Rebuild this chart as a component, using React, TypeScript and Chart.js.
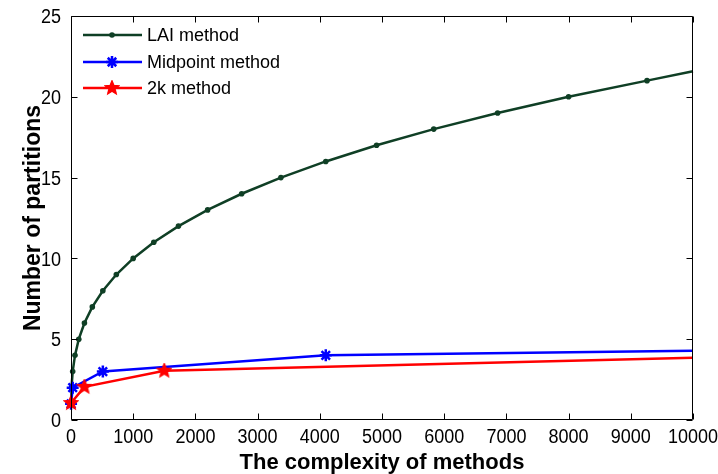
import React, { useEffect, useRef } from 'react';
import { Chart, registerables } from 'chart.js';

Chart.register(...registerables);

// ---- data ----
const laiComplexity = [1, 8, 27, 64, 125, 216, 343, 512, 729, 1000, 1331, 1728, 2197, 2744, 3375, 4096, 4913, 5832, 6859, 8000, 9261, 10000];
const laiPartitions = [1, 2, 3, 4, 5, 6, 7, 8, 9, 10, 11, 12, 13, 14, 15, 16, 17, 18, 19, 20, 21, 21.58];
const midComplexity = [1, 27, 512, 4096, 10000];
const midPartitions = [1, 2, 3, 4, 4.28];
const twoKComplexity = [1, 216, 1500, 10000];
const twoKPartitions = [1.05, 2.05, 3.05, 3.85];

const seriesNames = ['LAI method', 'Midpoint method', '2k method'];
const xTicks = [0, 1000, 2000, 3000, 4000, 5000, 6000, 7000, 8000, 9000, 10000];
const yTicks = [0, 5, 10, 15, 20, 25];
const xTitle = 'The complexity of methods';
const yTitle = 'Number of partitions';

const GREEN = '#0f3f25';
const BLUE = '#0000ff';
const RED = '#ff0000';

function makePentagram(color: string, r: number): HTMLCanvasElement {
  const c = document.createElement('canvas');
  const size = Math.ceil(r * 2 + 2);
  c.width = size;
  c.height = size;
  const g = c.getContext('2d')!;
  const cx = size / 2;
  const cy = size / 2;
  const inner = r * 0.45;
  g.beginPath();
  for (let i = 0; i < 10; i++) {
    const rad = i % 2 === 0 ? r : inner;
    const a = -Math.PI / 2 + (i * Math.PI) / 5;
    const px = cx + rad * Math.cos(a);
    const py = cy + rad * Math.sin(a);
    if (i === 0) g.moveTo(px, py);
    else g.lineTo(px, py);
  }
  g.closePath();
  g.fillStyle = color;
  g.fill();
  g.strokeStyle = color;
  g.lineWidth = 1.5;
  g.stroke();
  return c;
}

const zip = (xs: number[], ys: number[]) => xs.map((x, i) => ({ x, y: ys[i] }));

const FONT = "'Liberation Sans', Arial, Helvetica, sans-serif";

export default function App() {
  const ref = useRef<HTMLCanvasElement>(null);

  useEffect(() => {
    document.body.style.margin = '0';
    const pent = makePentagram(RED, 7);

    const lastHidden = (r: number) => (ctx: any) =>
      ctx.dataIndex === ctx.dataset.data.length - 1 ? 0 : r;

    const drawAsterisk = (ctx: CanvasRenderingContext2D, x: number, y: number, r: number) => {
      ctx.beginPath();
      ctx.moveTo(x - r, y);
      ctx.lineTo(x + r, y);
      ctx.moveTo(x, y - r);
      ctx.lineTo(x, y + r);
      const d = r * Math.SQRT1_2;
      ctx.moveTo(x - d, y - d);
      ctx.lineTo(x + d, y + d);
      ctx.moveTo(x - d, y + d);
      ctx.lineTo(x + d, y - d);
      ctx.stroke();
    };

    const framePlugin = {
      id: 'matlabFrame',
      afterDatasetsDraw(chart: any) {
        const { ctx, chartArea } = chart;
        const { left, right, top, bottom } = chartArea;
        const xs = chart.scales.x;
        const ys = chart.scales.y;
        ctx.save();
        ctx.strokeStyle = '#000';
        ctx.lineWidth = 1;
        const L = Math.round(left) + 0.5;
        const R = Math.round(right) - 0.5;
        const T = Math.round(top) + 0.5;
        const B = Math.round(bottom) - 0.5;
        ctx.beginPath();
        ctx.rect(L, T, R - L, B - T);
        const tl = 6;
        xTicks.forEach((v) => {
          const px = Math.round(xs.getPixelForValue(v)) + 0.5;
          ctx.moveTo(px, B);
          ctx.lineTo(px, B - tl);
          ctx.moveTo(px, T);
          ctx.lineTo(px, T + tl);
        });
        yTicks.forEach((v) => {
          const py = Math.round(ys.getPixelForValue(v)) + 0.5;
          ctx.moveTo(L, py);
          ctx.lineTo(L + tl, py);
          ctx.moveTo(R, py);
          ctx.lineTo(R - tl, py);
        });
        ctx.stroke();

        // tick labels (slightly condensed, like the reference)
        ctx.fillStyle = '#000';
        ctx.font = `20px ${FONT}`;
        ctx.textBaseline = 'alphabetic';
        const sx = 0.9;
        xTicks.forEach((v) => {
          const px = xs.getPixelForValue(v);
          ctx.save();
          ctx.translate(px, 443);
          ctx.scale(sx, 1);
          ctx.textAlign = 'center';
          ctx.fillText(String(v), 0, 0);
          ctx.restore();
        });
        yTicks.forEach((v) => {
          const py = ys.getPixelForValue(v);
          ctx.save();
          ctx.translate(61, py + 7.2);
          ctx.scale(sx, 1);
          ctx.textAlign = 'right';
          ctx.fillText(String(v), 0, 0);
          ctx.restore();
        });

        // axis titles
        ctx.font = `bold 22px ${FONT}`;
        ctx.textAlign = 'center';
        ctx.fillText(xTitle, (left + right) / 2, 469);
        ctx.save();
        ctx.translate(40, (top + bottom) / 2);
        ctx.rotate(-Math.PI / 2);
        ctx.font = `bold 23px ${FONT}`;
        ctx.fillText(yTitle, 0, 0);
        ctx.restore();

        // legend
        const rows = [35, 62, 88];
        const x0 = 83;
        const x1 = 142;
        const mx = 112;
        const colors = [GREEN, BLUE, RED];
        rows.forEach((ry, i) => {
          ctx.strokeStyle = colors[i];
          ctx.lineWidth = 2.5;
          ctx.beginPath();
          ctx.moveTo(x0, ry);
          ctx.lineTo(x1, ry);
          ctx.stroke();
          if (i === 0) {
            ctx.fillStyle = GREEN;
            ctx.beginPath();
            ctx.arc(mx, ry, 2.8, 0, Math.PI * 2);
            ctx.fill();
          } else if (i === 1) {
            ctx.strokeStyle = BLUE;
            ctx.lineWidth = 2.5;
            drawAsterisk(ctx, mx, ry, 6);
          } else {
            ctx.drawImage(pent, mx - pent.width / 2, ry - pent.height / 2);
          }
          ctx.fillStyle = '#000';
          ctx.font = `18px ${FONT}`;
          ctx.textBaseline = 'middle';
          ctx.textAlign = 'left';
          ctx.fillText(seriesNames[i], 147, ry + 1);
          ctx.textBaseline = 'alphabetic';
        });
        ctx.restore();
      },
    };

    const chart = new Chart(ref.current!, {
      type: 'line',
      data: {
        datasets: [
          {
            label: seriesNames[0],
            data: zip(laiComplexity, laiPartitions),
            borderColor: GREEN,
            backgroundColor: GREEN,
            borderWidth: 2.5,
            pointStyle: 'circle',
            pointRadius: lastHidden(2.8),
            pointBorderWidth: 0,
            pointBackgroundColor: GREEN,
            tension: 0,
            clip: false as any,
            order: 3,
          },
          {
            label: seriesNames[1],
            data: zip(midComplexity, midPartitions),
            borderColor: BLUE,
            backgroundColor: BLUE,
            borderWidth: 2.5,
            pointStyle: 'star',
            pointRadius: lastHidden(6),
            pointBorderWidth: 2.5,
            pointBorderColor: BLUE,
            tension: 0,
            clip: false as any,
            order: 2,
          },
          {
            label: seriesNames[2],
            data: zip(twoKComplexity, twoKPartitions),
            borderColor: RED,
            backgroundColor: RED,
            borderWidth: 2.5,
            pointStyle: pent as any,
            pointRadius: lastHidden(7),
            tension: 0,
            clip: false as any,
            order: 1,
          },
        ],
      },
      options: {
        responsive: false,
        animation: false,
        events: [],
        layout: { padding: { top: 16, right: 25, left: 0, bottom: 0 } },
        plugins: {
          legend: { display: false },
          tooltip: { enabled: false },
        },
        scales: {
          x: {
            type: 'linear',
            min: 0,
            max: 10000,
            afterBuildTicks: (s: any) => {
              s.ticks = xTicks.map((v) => ({ value: v }));
            },
            afterFit: (s: any) => {
              s.height = 54;
            },
            grid: { display: false, drawTicks: false },
            border: { display: false },
            ticks: { display: false },
            title: { display: false },
          },
          y: {
            type: 'linear',
            min: 0,
            max: 25,
            afterBuildTicks: (s: any) => {
              s.ticks = yTicks.map((v) => ({ value: v }));
            },
            afterFit: (s: any) => {
              s.width = 71;
            },
            grid: { display: false, drawTicks: false },
            border: { display: false },
            ticks: { display: false },
            title: { display: false },
          },
        },
      },
      plugins: [framePlugin],
    });
    return () => chart.destroy();
  }, []);

  return (
    <div style={{ width: 718, height: 474 }}>
      <canvas ref={ref} width={718} height={474} style={{ display: 'block' }} />
    </div>
  );
}
